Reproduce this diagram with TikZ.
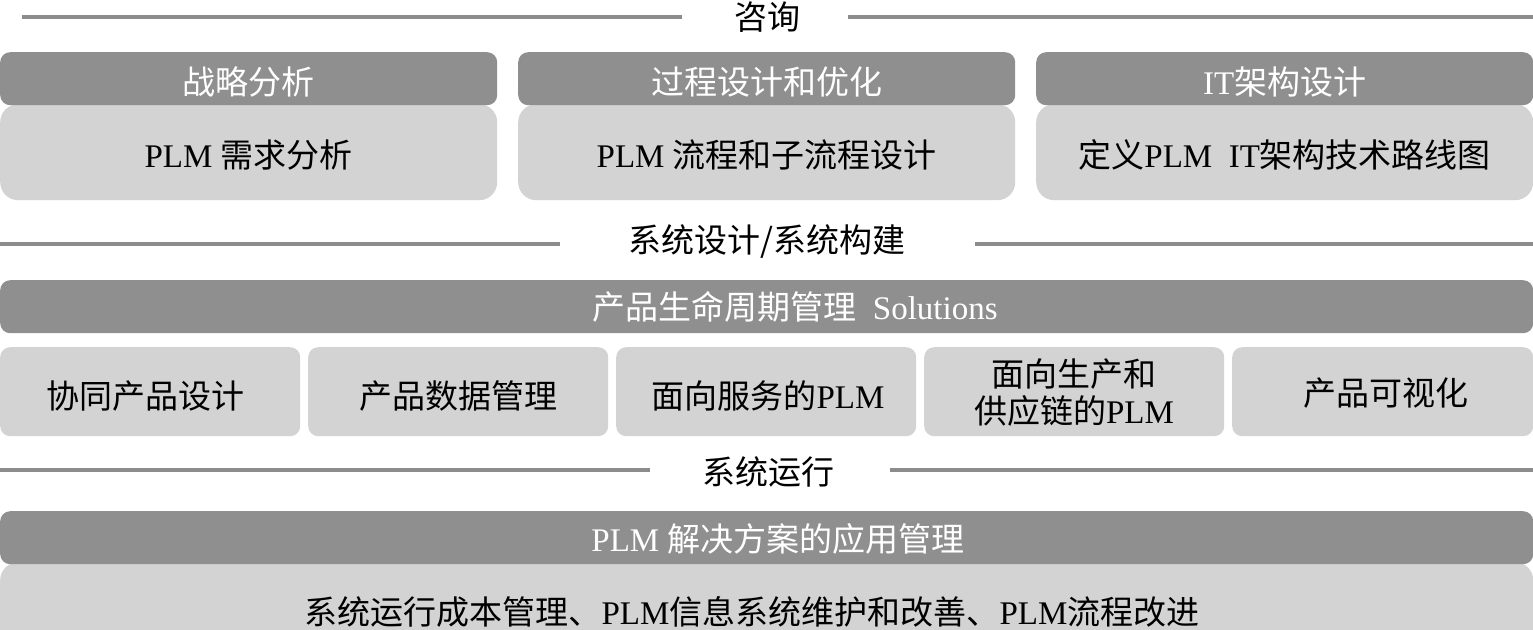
\documentclass[tikz,border=0pt]{standalone}
\usepackage{fontspec}
\setmainfont{Liberation Serif}
\newfontfamily\cjk{Noto Sans CJK SC}
\newcommand\zh[1]{{\cjk #1}}
\definecolor{darkbox}{HTML}{8F8F8F}
\definecolor{lightbox}{HTML}{D3D3D3}
\definecolor{rule}{HTML}{8C8C8C}
\tikzset{
  hdr/.style={fill=darkbox, rounded corners=10pt, text=white, inner sep=0pt, anchor=north west, font=\fontsize{33}{38}\selectfont},
  body/.style={fill=lightbox, rounded corners=18pt, text=black, inner sep=0pt, anchor=north west, font=\fontsize{33}{38}\selectfont},
  lbl/.style={text=black, inner sep=0pt, font=\fontsize{33}{38}\selectfont},
  sep/.style={draw=rule, line width=4pt},
}
\begin{document}
\begin{tikzpicture}[x=1pt,y=-1pt]
\useasboundingbox (0,0) rectangle (1533,629);
% section 1
\node[lbl] (t1) at (767,17) {\zh{咨询}};
\coordinate (l1a) at (22,17); \coordinate (l1b) at (682,17);
\coordinate (l1c) at (848,17); \coordinate (l1d) at (1533,17);
\draw[sep] (l1a) -- (l1b); \draw[sep] (l1c) -- (l1d);

\node[body, minimum width=497pt, minimum height=96pt] (b1) at (0,104) {};
\node[body, minimum width=497pt, minimum height=96pt] (b2) at (518,104) {};
\node[body, minimum width=497pt, minimum height=96pt] (b3) at (1036,104) {};
\node[hdr, minimum width=497pt, minimum height=53pt] (h1) at (0,52) {};
\node[hdr, minimum width=497pt, minimum height=53pt] (h2) at (518,52) {};
\node[hdr, minimum width=497pt, minimum height=53pt] (h3) at (1036,52) {};
\node[lbl, text=white] (h1t) at ([yshift=-3pt]h1.center) {\zh{战略分析}};
\node[lbl, text=white] (h2t) at ([yshift=-3pt]h2.center) {\zh{过程设计和优化}};
\node[lbl, text=white] (h3t) at ([yshift=-3pt]h3.center) {IT\zh{架构设计}};
\node[lbl] (b1t) at ([yshift=-3pt]b1.center) {PLM \zh{需求分析}};
\node[lbl] (b2t) at ([yshift=-3pt]b2.center) {PLM \zh{流程和子流程设计}};
\node[lbl] (b3t) at ([yshift=-3pt]b3.center) {\zh{定义}PLM\ \ IT\zh{架构技术路线图}};

% section 2
\node[lbl] (t2) at (767,242) {\zh{系统设计/系统构建}};
\coordinate (l2a) at (0,244); \coordinate (l2b) at (560,244);
\coordinate (l2c) at (975,244); \coordinate (l2d) at (1533,244);
\draw[sep] (l2a) -- (l2b); \draw[sep] (l2c) -- (l2d);

\node[hdr, minimum width=1533pt, minimum height=53pt] (h4) at (0,280) {};
\node[lbl, text=white] (h4t) at (795,307) {\zh{产品生命周期管理}\ \ Solutions};

\node[body, rounded corners=10pt, minimum width=300pt, minimum height=89pt] (s1) at (0,347) {};
\node[body, rounded corners=10pt, minimum width=300pt, minimum height=89pt] (s2) at (308,347) {};
\node[body, rounded corners=10pt, minimum width=300pt, minimum height=89pt] (s3) at (616,347) {};
\node[body, rounded corners=10pt, minimum width=300pt, minimum height=89pt] (s4) at (924,347) {};
\node[body, rounded corners=10pt, minimum width=301pt, minimum height=89pt] (s5) at (1232,347) {};
\node[lbl] (s1t) at (145,396) {\zh{协同产品设计}};
\node[lbl] (s2t) at (458,396) {\zh{产品数据管理}};
\node[lbl] (s3t) at (768,396) {\zh{面向服务的}PLM};
\node[lbl, align=center, font=\fontsize{33}{37}\selectfont] (s4t) at (1074,393) {\zh{面向生产和}\\\zh{供应链的}PLM};
\node[lbl] (s5t) at (1386,393) {\zh{产品可视化}};

% section 3
\node[lbl] (t3) at (768,472) {\zh{系统运行}};
\coordinate (l3a) at (0,470); \coordinate (l3b) at (650,470);
\coordinate (l3c) at (890,470); \coordinate (l3d) at (1533,470);
\draw[sep] (l3a) -- (l3b); \draw[sep] (l3c) -- (l3d);

\node[body, minimum width=1533pt, minimum height=100pt] (b5) at (0,562) {};
\node[hdr, minimum width=1533pt, minimum height=53pt] (h5) at (0,511) {};
\node[lbl, text=white] (h5t) at (778,539) {PLM \zh{解决方案的应用管理}};
\node[lbl] (b5t) at (752,612) {\zh{系统运行成本管理、}PLM\zh{信息系统维护和改善、}PLM\zh{流程改进}};
\end{tikzpicture}
\end{document}
